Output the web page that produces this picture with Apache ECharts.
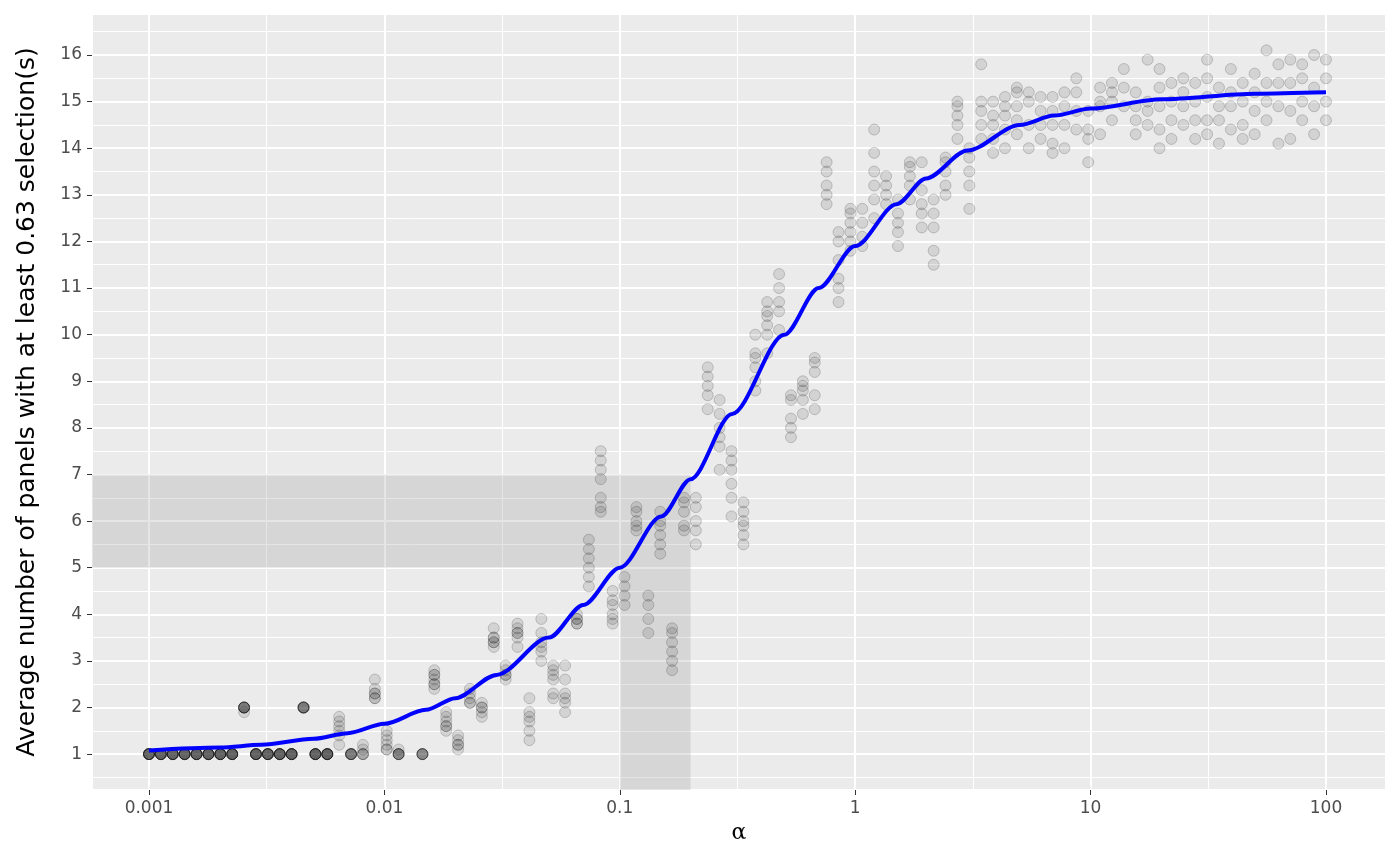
<!DOCTYPE html>
<html>
<head>
<meta charset="utf-8">
<script src="https://cdn.jsdelivr.net/npm/echarts@6/dist/echarts.min.js"></script>
<style>
  html, body { margin: 0; padding: 0; background: #fff; }
  #chart { width: 1400px; height: 866px; }
</style>
</head>
<body>
<div id="chart"></div>
<script>
// alpha grid: 100 log-spaced values from 0.001 to 100, referenced by index
const gridCount = 100;
const alphaMin = 0.001;
const alphaMax = 100;

// simulated replicates per alpha index
const replicateIndex = [
    0, 1, 2, 3, 4, 5, 6, 7, 8, 9, 10, 11, 12, 13, 14, 15, 16, 17, 18, 19, 20, 21,
    23, 24, 25, 26, 27, 28, 29, 30, 31, 32, 33, 34, 35, 36, 37, 38, 39, 40, 41, 42,
    43, 44, 45, 46, 47, 48, 49, 50, 51, 52, 53, 54, 55, 56, 57, 58, 59, 60, 61, 62,
    63, 64, 65, 66, 67, 68, 69, 70, 71, 72, 73, 74, 75, 76, 77, 78, 79, 80, 81, 82,
    83, 84, 85, 86, 87, 88, 89, 90, 91, 92, 93, 94, 95, 96, 97, 98, 99
];
const replicateValues = [
    [1,1,1,1,1,1,1,1], [1,1,1,1,1,1,1,1], [1,1,1,1,1,1,1,1], [1,1,1,1,1,1,1,1],
    [1,1,1,1,1,1,1,1], [1,1,1,1,1,1,1,1], [1,1,1,1,1,1,1,1], [1,1,1,1,1,1,1,1],
    [1.9,2,2,2,2,2,2], [1,1,1,1,1,1,1,1], [1,1,1,1,1,1,1,1], [1,1,1,1,1,1,1,1],
    [1,1,1,1,1,1,1,1], [2,2,2,2,2,2], [1,1,1,1,1,1,1,1], [1,1,1,1,1,1,1,1],
    [1.2,1.4,1.6,1.7,1.8,1.5], [1,1,1,1,1,1], [1,1.1,1.2,1,1], [2.2,2.3,2.4,2.6,2.3,2.2],
    [1.1,1.2,1.3,1.4,1.5,1.1], [1,1,1,1.1,1,1], [1,1,1,1,1],
    [2.4,2.5,2.6,2.7,2.8,2.7,2.5], [1.5,1.6,1.7,1.8,1.9,1.6], [1.1,1.2,1.3,1.4,1.2],
    [2.1,2.2,2.3,2.4,2.1], [1.8,1.9,2.0,2.1,2.0], [3.3,3.4,3.5,3.7,3.4,3.5],
    [2.6,2.7,2.8,2.9,2.7], [3.3,3.5,3.6,3.7,3.8,3.6], [1.3,1.5,1.7,1.8,1.9,2.2],
    [3.0,3.2,3.3,3.6,3.9,3.4], [2.2,2.3,2.6,2.7,2.8,2.9], [1.9,2.1,2.2,2.3,2.6,2.9],
    [3.8,3.9,4.0,3.8,3.9], [4.6,4.8,5.0,5.2,5.4,5.6], [6.2,6.3,6.5,6.9,7.1,7.3,7.5],
    [3.8,3.9,4.0,4.2,4.3,4.5], [4.2,4.4,4.6,4.8], [5.8,5.9,6.0,6.2,6.3],
    [3.6,3.9,4.2,4.4], [5.3,5.5,5.7,5.9,6.0,6.2], [2.8,3.0,3.2,3.4,3.6,3.7],
    [5.8,5.9,6.2,6.4,6.5], [5.5,5.8,6.0,6.3,6.5], [8.4,8.7,8.9,9.1,9.3],
    [7.1,7.6,7.8,8.0,8.3,8.6], [6.1,6.5,6.8,7.1,7.3,7.5], [5.5,5.7,5.9,6.0,6.2,6.4],
    [8.8,9.0,9.3,9.5,9.6,10.0], [9.6,10.0,10.2,10.4,10.5,10.7], [10.1,10.5,10.7,11.0,11.3],
    [7.8,8.0,8.2,8.6,8.7], [8.3,8.6,8.9,9.0,8.8], [8.4,8.7,9.2,9.4,9.5],
    [12.8,13.0,13.2,13.5,13.7], [10.7,11.0,11.2,11.6,12.0,12.2], [11.8,12.0,12.2,12.4,12.6,12.7],
    [11.9,12.1,12.4,12.7], [12.5,12.9,13.2,13.5,13.9,14.4], [12.8,13.0,13.2,13.4],
    [11.9,12.2,12.4,12.6,12.9], [12.9,13.2,13.4,13.6,13.7], [12.3,12.6,12.8,13.1,13.7],
    [11.5,11.8,12.3,12.6,12.9], [13.0,13.2,13.5,13.7,13.8], [14.2,14.5,14.7,14.9,15.0],
    [12.7,13.2,13.5,13.8,14.0], [14.2,14.5,14.8,15.0,15.8], [13.9,14.2,14.5,14.7,15.0],
    [14.0,14.4,14.7,14.9,15.1], [14.3,14.6,14.9,15.2,15.3], [14.0,14.5,15.0,15.2],
    [14.2,14.5,14.8,15.1], [13.9,14.1,14.5,14.8,15.1], [14.0,14.5,14.9,15.2],
    [14.4,14.8,15.2,15.5], [13.7,14.2,14.4,14.8], [14.3,14.9,15.0,15.3],
    [14.6,15.0,15.2,15.4], [14.9,15.3,15.7], [14.3,14.6,14.9,15.2],
    [14.5,14.8,15.0,15.9], [14.0,14.4,14.9,15.3,15.7], [14.2,14.6,15.0,15.4],
    [14.5,14.9,15.2,15.5], [14.2,14.6,15.0,15.4], [14.3,14.6,15.1,15.5,15.9],
    [14.1,14.6,14.9,15.3], [14.4,14.9,15.2,15.7], [14.2,14.5,15.0,15.4],
    [14.3,14.8,15.2,15.6], [14.6,15.0,15.4,16.1], [14.1,14.9,15.4,15.8],
    [14.2,14.8,15.4,15.9], [14.6,15.0,15.5,15.8], [14.3,14.9,15.3,16.0],
    [14.6,15.0,15.5,15.9], [14.6,15.2,15.6,15.8]
];

// fitted curve
const curveAlpha = [0.001, 0.002, 0.003, 0.005, 0.007, 0.01, 0.015, 0.02, 0.03, 0.05, 0.07, 0.1, 0.15, 0.2, 0.3, 0.5, 0.7, 1, 1.5, 2, 3, 5, 7, 10, 20, 50, 100];
const curveValue = [1.08, 1.14, 1.2, 1.33, 1.45, 1.65, 1.95, 2.2, 2.7, 3.5, 4.2, 5.0, 6.1, 6.9, 8.3, 10.0, 11.0, 11.9, 12.8, 13.35, 13.95, 14.5, 14.7, 14.85, 15.05, 15.17, 15.2];

// highlighted region
const bandAlpha = [0.1, 0.2];
const bandY = [5, 7];

const yTicks = [1, 2, 3, 4, 5, 6, 7, 8, 9, 10, 11, 12, 13, 14, 15, 16];
const xTickLabels = { '-3': '0.001', '-2': '0.01', '-1': '0.1', '0': '1', '1': '10', '2': '100' };

const xMin = -3.242, xMax = 2.255, yMin = 0.23, yMax = 16.88;

function alphaAt(k) {
    const lo = Math.log10(alphaMin), hi = Math.log10(alphaMax);
    return lo + k * (hi - lo) / (gridCount - 1);
}

const scatterData = [];
replicateIndex.forEach((k, i) => {
    replicateValues[i].forEach(v => scatterData.push([alphaAt(k), v]));
});

const curveData = curveAlpha.map((a, i) => [Math.log10(a), curveValue[i]]);

const bandColor = 'rgba(160,160,160,0.28)';
const lb = Math.log10(bandAlpha[0]), rb = Math.log10(bandAlpha[1]);

const chart = echarts.init(document.getElementById('chart'));
chart.setOption({
    animation: false,
    grid: {
        left: 92, right: 14, top: 14, bottom: 76,
        show: true, backgroundColor: '#EBEBEB', borderWidth: 0
    },
    xAxis: {
        type: 'value', min: xMin, max: xMax, splitNumber: 5,
        name: 'α', nameLocation: 'middle', nameGap: 30,
        nameTextStyle: { fontSize: 22, color: '#000', fontFamily: 'DejaVu Serif' },
        axisLine: { show: false, onZero: false },
        axisTick: { show: true, length: 5, lineStyle: { color: '#333' } },
        axisLabel: {
            color: '#4D4D4D', fontSize: 17, margin: 10, fontFamily: 'DejaVu Sans',
            showMinLabel: false, showMaxLabel: false,
            formatter: v => xTickLabels[String(Math.round(v))] || ''
        },
        splitLine: { show: true, lineStyle: { color: '#fff', width: 2 } },
        minorTick: { show: false, splitNumber: 2 },
        minorSplitLine: { show: true, lineStyle: { color: '#fff', width: 1 } }
    },
    yAxis: {
        type: 'value', min: yMin, max: yMax, splitNumber: 16,
        name: 'Average number of panels with at least 0.63 selection(s)',
        nameLocation: 'middle', nameGap: 52,
        nameTextStyle: { fontSize: 25, color: '#000', fontFamily: 'DejaVu Sans' },
        axisLine: { show: false, onZero: false },
        axisTick: { show: true, length: 5, lineStyle: { color: '#333' } },
        axisLabel: {
            color: '#4D4D4D', fontSize: 17, margin: 10, fontFamily: 'DejaVu Sans',
            showMinLabel: false, showMaxLabel: false,
            formatter: v => yTicks.includes(Math.round(v)) && Math.abs(v - Math.round(v)) < 1e-6 ? String(Math.round(v)) : ''
        },
        splitLine: { show: true, lineStyle: { color: '#fff', width: 2 } },
        minorTick: { show: false, splitNumber: 2 },
        minorSplitLine: { show: true, lineStyle: { color: '#fff', width: 1 } }
    },
    series: [
        {
            type: 'scatter',
            data: scatterData,
            symbolSize: 11,
            itemStyle: { color: 'rgba(0,0,0,0.13)', borderColor: 'rgba(0,0,0,0.22)', borderWidth: 1 },
            markArea: {
                silent: true,
                itemStyle: { color: bandColor },
                data: [
                    [{ coord: [xMin, bandY[0]] }, { coord: [lb, bandY[1]] }],
                    [{ coord: [lb, yMin] }, { coord: [rb, bandY[1]] }]
                ]
            }
        },
        {
            type: 'line',
            data: curveData,
            smooth: 0.3,
            smoothMonotone: 'x',
            showSymbol: false,
            lineStyle: { color: '#0000FF', width: 4 },
            z: 5
        }
    ]
});
</script>
</body>
</html>
